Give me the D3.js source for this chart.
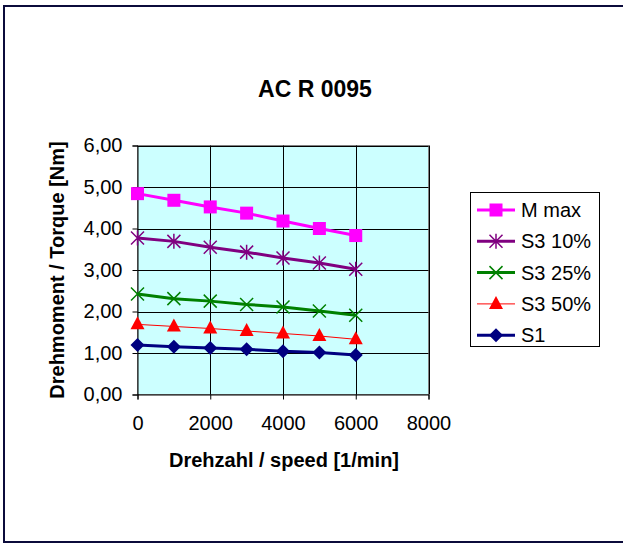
<!DOCTYPE html>
<html><head><meta charset="utf-8">
<script src="https://cdn.jsdelivr.net/npm/d3@7"></script>
<style>body{margin:0;background:#fff}svg{display:block}</style>
</head><body>
<svg id="c" width="623" height="543"></svg>
<script>
const speeds = [0, 1000, 2000, 3000, 4000, 5000, 6000];
const mMax  = [4.84, 4.68, 4.52, 4.37, 4.18, 4.00, 3.83];
const s3_10 = [3.77, 3.69, 3.55, 3.43, 3.29, 3.17, 3.02];
const s3_25 = [2.42, 2.31, 2.25, 2.17, 2.11, 2.01, 1.91];
const s3_50 = [1.69, 1.64, 1.59, 1.53, 1.47, 1.41, 1.33];
const s1    = [1.19, 1.15, 1.12, 1.09, 1.04, 1.01, 0.95];
const seriesNames = ["M max", "S3 10%", "S3 25%", "S3 50%", "S1"];
const xTicks = [0, 2000, 4000, 6000, 8000];
const yTicks = [0, 1, 2, 3, 4, 5, 6];

const series = [
  {name: seriesNames[0], values: mMax,  color: "#ff00ff", width: 3, marker: "square"},
  {name: seriesNames[1], values: s3_10, color: "#800080", width: 3, marker: "asterisk"},
  {name: seriesNames[2], values: s3_25, color: "#008000", width: 3, marker: "x"},
  {name: seriesNames[3], values: s3_50, color: "#ff0000", width: 1, marker: "triangle"},
  {name: seriesNames[4], values: s1,    color: "#000080", width: 3, marker: "diamond"}
];

const svg = d3.select("#c");
const font = "'Liberation Sans', Arial, sans-serif";

// outer border
svg.append("rect").attr("x", 4).attr("y", 6).attr("width", 640).attr("height", 536)
  .attr("fill", "#fff").attr("stroke", "#0b0b3b").attr("stroke-width", 2);

const L = 137.5, R = 428.5, T = 145.5, B = 394.5;
const x = d3.scaleLinear().domain([0, 8000]).range([L, R]);
const y = d3.scaleLinear().domain([0, 6]).range([B, T]);

svg.append("rect").attr("x", L).attr("y", T).attr("width", R - L).attr("height", B - T)
  .attr("fill", "#ccffff").attr("stroke", "#808080").attr("stroke-width", 1);

// gridlines
svg.append("g").selectAll("line").data(yTicks.slice(1)).join("line")
  .attr("x1", L).attr("x2", R).attr("y1", d => Math.round(y(d)) + 0.5).attr("y2", d => Math.round(y(d)) + 0.5)
  .attr("stroke", "#000").attr("stroke-width", 1);
svg.append("g").selectAll("line").data(xTicks.slice(1)).join("line")
  .attr("y1", T).attr("y2", B).attr("x1", d => Math.round(x(d)) + 0.5).attr("x2", d => Math.round(x(d)) + 0.5)
  .attr("stroke", "#000").attr("stroke-width", 1);

// axes
const fmt = d => d3.format(".2f")(d).replace(".", ",");
const yAxis = svg.append("g").attr("transform", `translate(${L},0)`)
  .call(d3.axisLeft(y).tickValues(yTicks).tickFormat(fmt).tickSize(5).tickPadding(10));
const xAxis = svg.append("g").attr("transform", `translate(0,${B})`)
  .call(d3.axisBottom(x).tickValues(xTicks).tickFormat(d3.format("d")).tickSize(5).tickPadding(16));
[yAxis, xAxis].forEach(a => {
  a.selectAll("path.domain").attr("stroke", "#000");
  a.selectAll(".tick line").attr("stroke", "#000");
  a.selectAll("text").attr("font-family", font).attr("font-size", 20).attr("fill", "#000");
});

// lines and markers
const line = d3.line().x((d, i) => x(speeds[i])).y(d => y(d));
function drawMarker(g, type, color, cx, cy) {
  if (type === "square") {
    g.append("rect").attr("x", cx - 6.5).attr("y", cy - 6.5).attr("width", 13).attr("height", 13).attr("fill", color);
  } else if (type === "asterisk") {
    const s = 6.5;
    g.append("path").attr("d", `M${cx - s},${cy - s}L${cx + s},${cy + s}M${cx - s},${cy + s}L${cx + s},${cy - s}M${cx},${cy - s - 1}L${cx},${cy + s + 1}`)
      .attr("stroke", color).attr("stroke-width", 1.5).attr("fill", "none");
  } else if (type === "x") {
    const s = 6.5;
    g.append("path").attr("d", `M${cx - s},${cy - s}L${cx + s},${cy + s}M${cx - s},${cy + s}L${cx + s},${cy - s}`)
      .attr("stroke", color).attr("stroke-width", 1.5).attr("fill", "none");
  } else if (type === "triangle") {
    g.append("path").attr("d", `M${cx},${cy - 8}L${cx + 7},${cy + 5}L${cx - 7},${cy + 5}Z`).attr("fill", color);
  } else if (type === "diamond") {
    g.append("path").attr("d", `M${cx},${cy - 7}L${cx + 7},${cy}L${cx},${cy + 7}L${cx - 7},${cy}Z`).attr("fill", color);
  }
}

series.forEach(s => {
  const g = svg.append("g");
  g.append("path").datum(s.values).attr("d", line).attr("fill", "none")
    .attr("stroke", s.color).attr("stroke-width", s.width);
  s.values.forEach((v, i) => drawMarker(g, s.marker, s.color, x(speeds[i]), y(v)));
});

// title
svg.append("text").attr("x", 315).attr("y", 97).attr("text-anchor", "middle")
  .attr("font-family", font).attr("font-weight", "bold").attr("font-size", 23).text("AC R 0095");

// axis titles
svg.append("text").attr("x", 284).attr("y", 467).attr("text-anchor", "middle")
  .attr("font-family", font).attr("font-weight", "bold").attr("font-size", 20).text("Drehzahl / speed [1/min]");
svg.append("text").attr("transform", "translate(64,270) rotate(-90)").attr("text-anchor", "middle")
  .attr("font-family", font).attr("font-weight", "bold").attr("font-size", 20).text("Drehmoment / Torque [Nm]");

// legend
const lg = svg.append("g");
lg.append("rect").attr("x", 470.5).attr("y", 192.5).attr("width", 129).attr("height", 154)
  .attr("fill", "#fff").attr("stroke", "#000").attr("stroke-width", 1);
series.forEach((s, i) => {
  const cy = 210 + i * 31.3;
  lg.append("line").attr("x1", 477).attr("x2", 515).attr("y1", cy).attr("y2", cy)
    .attr("stroke", s.color).attr("stroke-width", s.width);
  drawMarker(lg, s.marker, s.color, 496, cy);
  lg.append("text").attr("x", 521).attr("y", cy + 7).attr("font-family", font)
    .attr("font-size", 20).text(s.name);
});
</script>
</body></html>
